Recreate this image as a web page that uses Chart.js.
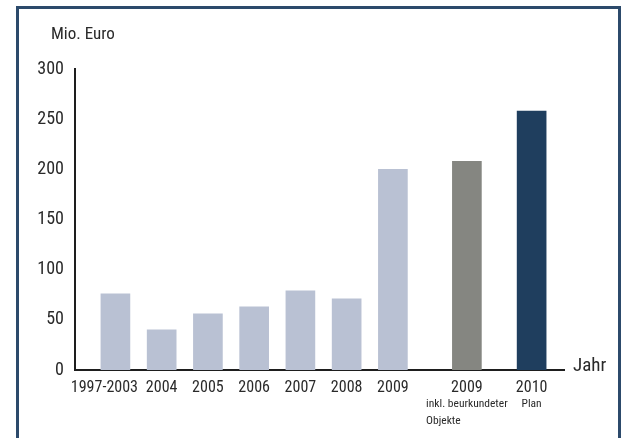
<!DOCTYPE html>
<html>
<head>
<meta charset="utf-8">
<script src="https://cdn.jsdelivr.net/npm/chart.js@4.4.1/dist/chart.umd.min.js"></script>
<style>
  html, body { margin: 0; padding: 0; background: #fff; overflow: hidden; }
  #frame { position: absolute; left: 16px; top: 6px; width: 599px; height: 500px; border: 3px solid #2c4a6b; }
  #wrap { position: absolute; left: 0; top: 0; width: 632px; height: 438px; }
</style>
</head>
<body>
<div id="frame"></div>
<div id="wrap"><canvas id="BarChart" width="632" height="438"></canvas></div>
<script>
// Daten
const categories = ['1997-2003', '2004', '2005', '2006', '2007', '2008', '2009', '2009', '2010'];
const subLabels = [[], [], [], [], [], [], [], ['inkl. beurkundeter', 'Objekte'], ['Plan']];
const values = [76, 40, 56, 63, 79, 71, 200, 208, 258]; // Mio. Euro
const yTicks = [0, 50, 100, 150, 200, 250, 300];

// Layout (Position der Balken auf der x-Achse, Farben)
const slots = [0, 1, 2, 3, 4, 5, 6, 7.6, 9];
const barColors = ['#b9c1d3', '#b9c1d3', '#b9c1d3', '#b9c1d3', '#b9c1d3', '#b9c1d3', '#b9c1d3', '#858681', '#1f3e5e'];

const FONT = '"Roboto Condensed", "DejaVu Sans Condensed", sans-serif';
const TEXT = '#2a2a2a';

// Zusatztexte: Achsentitel und zweite Zeile unter den Jahren
const extraText = {
  id: 'extraText',
  afterDraw(chart) {
    const ctx = chart.ctx;
    const area = chart.chartArea;
    const x = chart.scales.x;
    ctx.save();
    ctx.fillStyle = TEXT;
    ctx.textBaseline = 'middle';
    ctx.textAlign = 'left';
    ctx.font = '17px ' + FONT;
    ctx.fillText('Mio. Euro', area.left - 24, area.top - 34);
    ctx.font = '19px ' + FONT;
    ctx.fillText('Jahr', area.right + 9, area.bottom - 4);

    ctx.font = '11.5px ' + FONT;
    subLabels.forEach((lines, i) => {
      if (!lines.length) return;
      const cx = x.getPixelForValue(slots[i]);
      const w = Math.max(...lines.map(l => ctx.measureText(l).width));
      lines.forEach((l, j) => {
        ctx.fillText(l, cx - w / 2, area.bottom + 34 + j * 17);
      });
    });
    ctx.restore();
  }
};

const data = {
  datasets: [{
    data: slots.map((s, i) => ({ x: s, y: values[i] })),
    backgroundColor: barColors,
    borderWidth: 0,
    barThickness: 29
  }]
};

const config = {
  type: 'bar',
  data: data,
  options: {
    responsive: false,
    animation: false,
    layout: { padding: { top: 69, right: 68, left: 0, bottom: 0 } },
    plugins: {
      legend: { display: false },
      tooltip: { enabled: false }
    },
    scales: {
      x: {
        type: 'linear',
        min: -0.874,
        max: 9.7,
        offset: false,
        grid: { display: false, drawTicks: false },
        border: { display: true, color: '#1e1e1e', width: 2 },
        afterBuildTicks: scale => { scale.ticks = slots.map(v => ({ value: v })); },
        afterFit: scale => { scale.height = 68; },
        ticks: {
          autoSkip: false,
          maxRotation: 0,
          padding: 8,
          color: TEXT,
          font: { family: FONT, size: 16 },
          // erstes Label steht im Original etwas links vom Balken
          callback: (v, i) => i === 0 ? categories[i] + '      ' : categories[i]
        }
      },
      y: {
        min: 0,
        max: 300,
        grid: { display: false, drawTicks: false },
        border: { display: true, color: '#1e1e1e', width: 2 },
        afterBuildTicks: scale => { scale.ticks = yTicks.map(v => ({ value: v })); },
        afterFit: scale => { scale.width = 75; },
        ticks: {
          padding: 11,
          color: TEXT,
          font: { family: FONT, size: 18 }
        }
      }
    }
  },
  plugins: [extraText]
};

new Chart(document.getElementById('BarChart'), config);
</script>
</body>
</html>
